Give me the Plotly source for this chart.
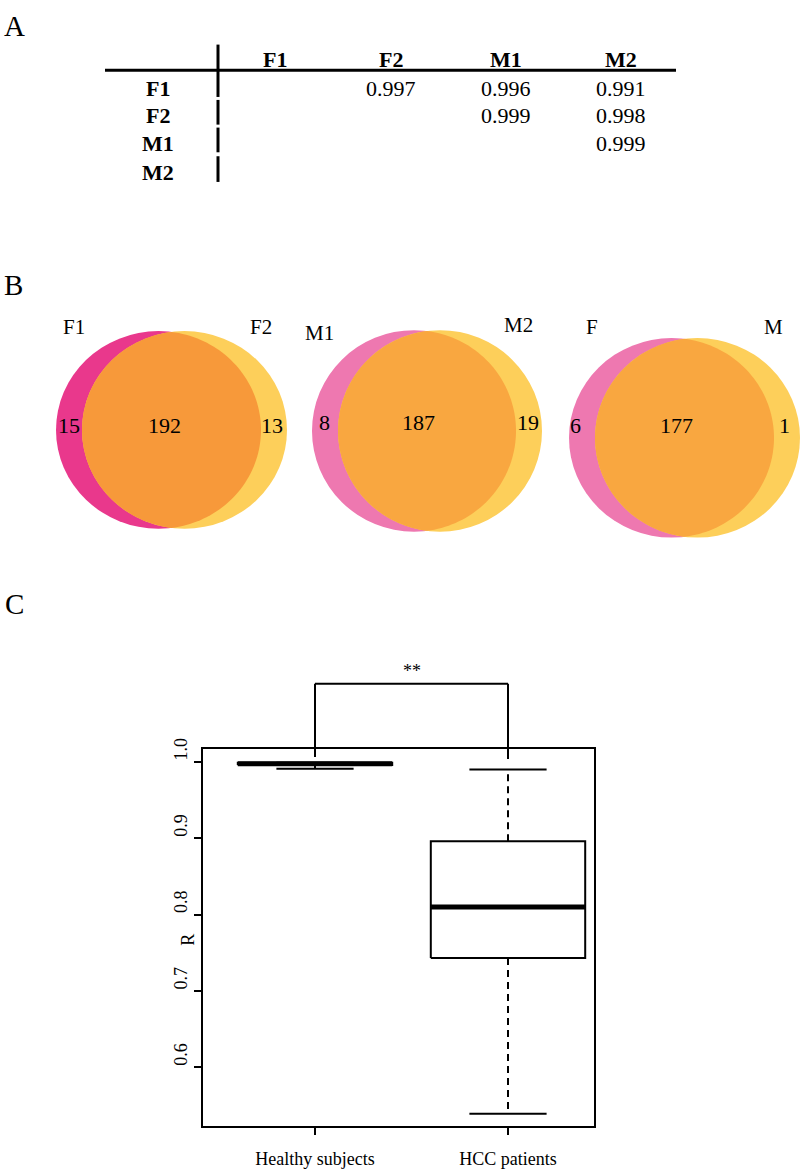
import numpy as np
import plotly.graph_objects as go

W, H = 800, 1169

# ---------------- Panel A: correlation table ----------------
samples = ["F1", "F2", "M1", "M2"]
corr_rows = [
    [None, 0.997, 0.996, 0.991],
    [None, None, 0.999, 0.998],
    [None, None, None, 0.999],
    [None, None, None, None],
]

# ---------------- Panel B: Venn counts ----------------
venn_names_a = ["F1", "M1", "F"]
venn_names_b = ["F2", "M2", "M"]
venn_only_a = [15, 8, 6]
venn_shared = [192, 187, 177]
venn_only_b = [13, 19, 1]

# ---------------- Panel C: box plot statistics ----------------
groups = ["Healthy subjects", "HCC patients"]
whisker_low = [0.991, 0.539]
q1 = [0.996, 0.743]
median = [0.9975, 0.810]
q3 = [0.999, 0.896]
whisker_high = [0.999, 0.990]
y_ticks = [0.6, 0.7, 0.8, 0.9, 1.0]
y_ticklabels = ["0.6", "0.7", "0.8", "0.9", "1.0"]
signif = "**"

SERIF = "Liberation Serif"


def px(x):
    return x / W


def py(y):
    return 1 - y / H


shapes = []
annotations = []


def text(x, y, s, size=20, **kw):
    annotations.append(dict(
        x=px(x), y=py(y), xref="paper", yref="paper", text=s, showarrow=False,
        font=dict(family=SERIF, size=size, color="black"),
        xanchor="center", yanchor="middle", **kw))


# panel letters
text(14, 15, "A", size=29)
text(13, 277, "B", size=29)
text(14, 600, "C", size=29)

# ---- table ----
shapes.append(dict(type="line", xref="paper", yref="paper", x0=px(105), x1=px(676),
                   y0=py(60), y1=py(60), line=dict(color="black", width=3)))
for (ya, yb) in [(34, 87), (90, 115), (118, 143), (147, 173)]:
    shapes.append(dict(type="line", xref="paper", yref="paper", x0=px(218), x1=px(218),
                       y0=py(ya), y1=py(yb), line=dict(color="black", width=3)))
col_x = [275, 391, 506, 621]
row_y = [78, 106, 134.5, 163]
for j, name in enumerate(samples):
    text(col_x[j], 49, "<b>%s</b>" % name, size=22)
for i, name in enumerate(samples):
    text(158, row_y[i], "<b>%s</b>" % name, size=22)
    for j, v in enumerate(corr_rows[i]):
        if v is not None:
            text(col_x[j], row_y[i], "%.3f" % v, size=22)

# ---- Venn diagrams ----
venn_geom = [
    dict(cxa=158.5, cxb=184.5, cy=424, rx=102.5, ry=100),
    dict(cxa=414, cxb=440, cy=425, rx=102, ry=102),
    dict(cxa=671.5, cxb=697.5, cy=432, rx=102.5, ry=101),
]
pink = ["#E9388C", "#EE78B0", "#EE78B0"]
yellow = ["#FDCF5A", "#FDCF5A", "#FDCF5A"]
overlap = ["#F7993A", "#F9A740", "#F9A740"]
name_pos_a = [(74, 320), (319, 326), (592, 320)]
name_pos_b = [(261, 320), (518, 318), (773, 320)]
count_pos = [
    [(69, 420), (164, 420), (272, 420)],
    [(324, 416), (418, 416), (528, 416)],
    [(575, 420), (676, 420), (784, 420)],
]

for k, g in enumerate(venn_geom):
    for cx, col in [(g["cxa"], pink[k]), (g["cxb"], yellow[k])]:
        shapes.append(dict(type="circle", xref="paper", yref="paper",
                           x0=px(cx - g["rx"]), x1=px(cx + g["rx"]),
                           y0=py(g["cy"] + g["ry"]), y1=py(g["cy"] - g["ry"]),
                           fillcolor=col, line=dict(width=0), layer="below"))
    d = g["cxb"] - g["cxa"]
    th0 = np.arccos(d / 2 / g["rx"])
    t1 = np.linspace(th0, -th0, 80)
    xs1 = g["cxa"] + g["rx"] * np.cos(t1)
    ys1 = g["cy"] - g["ry"] * np.sin(t1)
    t2 = np.linspace(np.pi + th0, np.pi - th0, 80)
    xs2 = g["cxb"] + g["rx"] * np.cos(t2)
    ys2 = g["cy"] - g["ry"] * np.sin(t2)
    xs = np.concatenate([xs1, xs2])
    ys = np.concatenate([ys1, ys2])
    path = "M " + " L ".join("%.5f,%.5f" % (px(a), py(b)) for a, b in zip(xs, ys)) + " Z"
    shapes.append(dict(type="path", xref="paper", yref="paper", path=path,
                       fillcolor=overlap[k], line=dict(width=0), layer="below"))
    text(*name_pos_a[k], venn_names_a[k], size=21)
    text(*name_pos_b[k], venn_names_b[k], size=21)
    vals = [venn_only_a[k], venn_shared[k], venn_only_b[k]]
    for (x, y), v in zip(count_pos[k], vals):
        text(x, y, str(v), size=22)

# ---- box plot ----
fig = go.Figure()
half_box, half_staple = 0.4, 0.2
for i, gname in enumerate(groups):
    xc = i + 1
    line = dict(color="black", width=2)
    fig.add_trace(go.Scatter(
        x=[xc - half_box, xc + half_box, xc + half_box, xc - half_box, xc - half_box],
        y=[q1[i], q1[i], q3[i], q3[i], q1[i]], mode="lines", line=line,
        showlegend=False, hoverinfo="skip"))
    for (ya, yb) in [(q3[i], whisker_high[i]), (q1[i], whisker_low[i])]:
        fig.add_trace(go.Scatter(x=[xc, xc], y=[ya, yb], mode="lines",
                                 line=dict(color="black", width=2, dash="7px,5px"),
                                 showlegend=False, hoverinfo="skip"))
    for yv in [whisker_high[i], whisker_low[i]]:
        fig.add_trace(go.Scatter(x=[xc - half_staple, xc + half_staple], y=[yv, yv],
                                 mode="lines", line=line, showlegend=False, hoverinfo="skip"))
    fig.add_trace(go.Scatter(x=[xc - half_box, xc + half_box], y=[median[i], median[i]],
                             mode="lines", line=dict(color="black", width=5),
                             showlegend=False, hoverinfo="skip"))

# significance bracket
bk = dict(color="black", width=2)
shapes.append(dict(type="line", xref="x", yref="paper", x0=1, x1=1, y0=py(755), y1=py(681), line=bk))
shapes.append(dict(type="line", xref="x", yref="paper", x0=1, x1=2, y0=py(681), y1=py(681), line=bk))
shapes.append(dict(type="line", xref="x", yref="paper", x0=2, x1=2, y0=py(681), y1=py(757), line=bk))
annotations.append(dict(x=1.5, xref="x", y=py(668), yref="paper", text=signif, showarrow=False,
                        font=dict(family=SERIF, size=18, color="black"),
                        xanchor="center", yanchor="middle"))
# y axis title
annotations.append(dict(x=px(188), y=py(940), xref="paper", yref="paper", text="R",
                        showarrow=False, textangle=-90,
                        font=dict(family=SERIF, size=18, color="black"),
                        xanchor="center", yanchor="middle"))

axis_common = dict(showline=True, linecolor="black", linewidth=2, mirror=True,
                   ticks="outside", ticklen=7, tickwidth=2, tickcolor="black",
                   showgrid=False, zeroline=False,
                   tickfont=dict(family=SERIF, size=18, color="black"))

fig.update_layout(
    width=W, height=H, margin=dict(l=0, r=0, t=0, b=0),
    paper_bgcolor="white", plot_bgcolor="white",
    shapes=shapes, annotations=annotations,
    xaxis=dict(domain=[px(203), px(594)], range=[0.4197, 2.4456],
               tickvals=[1, 2], ticktext=groups, ticklabelstandoff=8, **axis_common),
    yaxis=dict(domain=[py(1129), py(747)], range=[0.5223, 1.0168],
               tickvals=y_ticks, ticktext=y_ticklabels, tickangle=-90,
               ticklabelshift=-10, **axis_common),
)

fig.write_html("out.html", config={"displayModeBar": False},
               post_script="document.body.style.margin='0';")
